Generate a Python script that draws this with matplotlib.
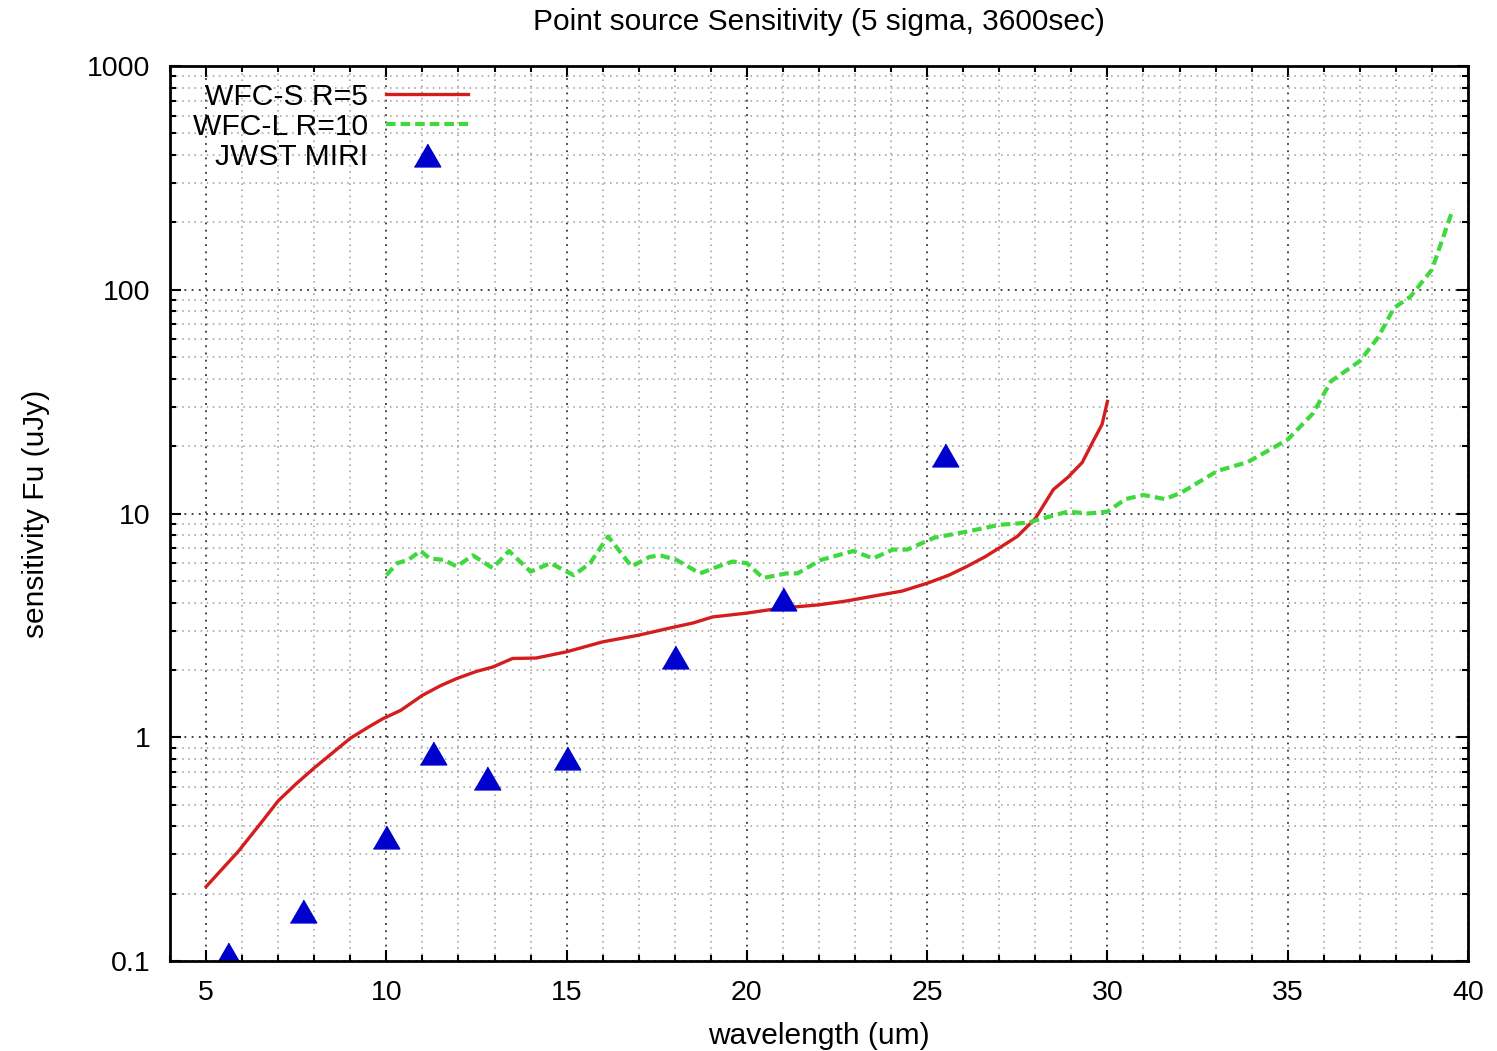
import matplotlib
matplotlib.use("Agg")
import matplotlib.pyplot as plt
from matplotlib.ticker import FixedLocator, LogLocator, MultipleLocator, NullFormatter

plt.rcParams["font.family"] = ["Liberation Sans", "DejaVu Sans"]

# WFC-S, R=5
wfcs_wl = [5.0, 5.9, 6.5, 7.0, 7.5, 8.0, 8.5, 9.0, 9.5, 9.9, 10.4, 11.0, 11.5,
           11.95, 12.5, 12.95, 13.5, 14.15, 15.0, 16.0, 17.0, 17.95, 18.5,
           19.05, 20.0, 20.95, 21.95, 22.7, 23.6, 24.3, 25.0, 25.6, 26.1,
           26.6, 27.05, 27.5, 28.0, 28.5, 28.9, 29.3, 29.6, 29.85, 30.0]
wfcs_flux = [0.215, 0.31, 0.41, 0.52, 0.62, 0.73, 0.85, 0.99, 1.11, 1.21, 1.32,
             1.54, 1.70, 1.83, 1.97, 2.06, 2.25, 2.26, 2.41, 2.67, 2.86, 3.1,
             3.24, 3.45, 3.59, 3.78, 3.9, 4.05, 4.3, 4.5, 4.88, 5.3, 5.8, 6.4,
             7.1, 7.9, 9.5, 12.8, 14.5, 16.9, 21.0, 25.0, 31.7]

# WFC-L, R=10
wfcl_wl = [10.0, 10.3, 10.6, 10.95, 11.2, 11.6, 11.95, 12.4, 12.95, 13.4, 14.0,
           14.55, 15.2, 15.65, 16.15, 16.8, 17.3, 17.6, 18.05, 18.7, 19.2,
           19.6, 20.0, 20.45, 21.1, 21.4, 22.05, 22.95, 23.5, 24.05, 24.45,
           25.2, 26.1, 27.0, 27.8, 28.2, 28.9, 29.45, 30.0, 30.5, 31.0, 31.6,
           32.05, 33.05, 33.9, 35.0, 35.7, 36.2, 37.0, 37.5, 37.95, 38.4,
           39.0, 39.58]
wfcl_flux = [5.3, 6.0, 6.2, 6.8, 6.3, 6.2, 5.8, 6.5, 5.7, 6.8, 5.5, 6.0, 5.3,
             6.0, 7.9, 5.8, 6.4, 6.5, 6.2, 5.4, 5.8, 6.1, 6.0, 5.15, 5.4, 5.4,
             6.2, 6.8, 6.3, 6.9, 6.9, 7.8, 8.3, 8.9, 9.1, 9.5, 10.2, 10.0,
             10.2, 11.6, 12.1, 11.6, 12.4, 15.5, 17.0, 21.4, 28.0, 39.0, 48.0,
             61.0, 83.0, 93.0, 123.0, 229.0]

# JWST MIRI imager
miri_wl = [5.6, 7.7, 10.0, 11.3, 12.8, 15.0, 18.0, 21.0, 25.5]
miri_flux = [0.108, 0.168, 0.36, 0.85, 0.66, 0.81, 2.29, 4.15, 18.3]

x_ticks = [5, 10, 15, 20, 25, 30, 35, 40]
y_ticks = [0.1, 1, 10, 100, 1000]
y_tick_labels = ["0.1", "1", "10", "100", "1000"]

# equilateral triangle, centred on its bounding box
tri = [(-1, -0.866), (1, -0.866), (0, 0.866)]


def main():
    fig = plt.figure(figsize=(14.97, 10.51), dpi=100)
    ax = fig.add_axes([0.1136, 0.0856, 0.867, 0.8516])

    ax.plot(wfcs_wl, wfcs_flux, color="#d41e1e", lw=2.4, label="WFC-S R=5")
    ax.plot(wfcl_wl, wfcl_flux, color="#3fd83f", lw=3.0, dashes=(2.3, 1.2),
            label="WFC-L R=10")
    ax.plot(miri_wl, miri_flux, ls="none", marker=tri, ms=19,
            color="#0000cc", label="JWST MIRI")

    ax.set_yscale("log")
    ax.set_xlim(4, 40)
    ax.set_ylim(0.1, 1000)

    ax.xaxis.set_major_locator(FixedLocator(x_ticks))
    ax.xaxis.set_minor_locator(MultipleLocator(1))
    ax.yaxis.set_major_locator(FixedLocator(y_ticks))
    ax.set_yticklabels(y_tick_labels)
    ax.yaxis.set_minor_locator(LogLocator(base=10, subs=range(2, 10)))
    ax.yaxis.set_minor_formatter(NullFormatter())

    ax.tick_params(which="both", direction="in", top=True, right=True,
                   labelsize=20.5, width=1.5)
    ax.tick_params(which="major", length=8, pad=14)
    ax.tick_params(which="minor", length=4.5)
    for sp in ax.spines.values():
        sp.set_linewidth(2)

    ax.grid(which="major", ls=(0, (1, 3)), color="#333333", lw=1.3)
    ax.grid(which="minor", ls=(0, (1, 3)), color="#9a9a9a", lw=1.1)
    ax.set_axisbelow(True)

    ax.set_title("Point source Sensitivity (5 sigma, 3600sec)",
                 fontsize=21.5, pad=26)
    ax.set_xlabel("wavelength (um)", fontsize=21.5, labelpad=11)
    ax.set_ylabel("sensitivity Fu (uJy)", fontsize=21.5, labelpad=27)

    ax.legend(loc="upper left", bbox_to_anchor=(-0.001, 1.008), frameon=False,
              markerfirst=False, fontsize=21.6, handlelength=2.75,
              handletextpad=0.6, labelspacing=0.07, borderpad=0.3)

    fig.savefig("out.png", dpi=100)


if __name__ == "__main__":
    main()
